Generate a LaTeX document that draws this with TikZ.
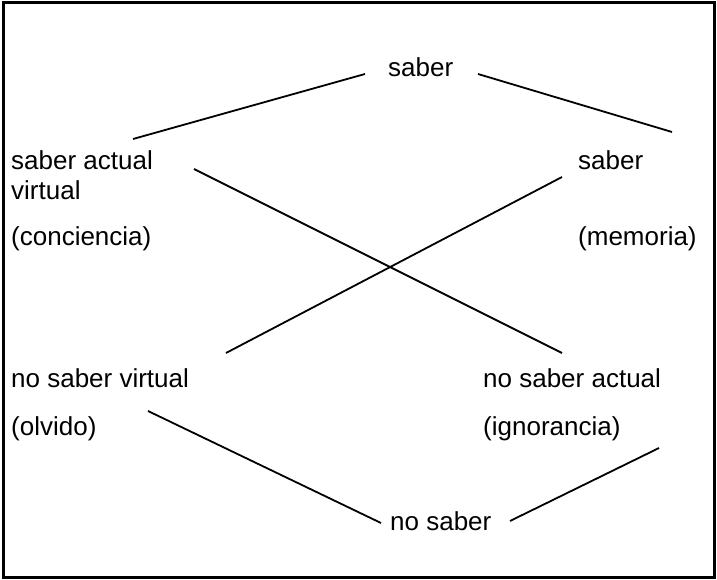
\documentclass[tikz,border=0pt]{standalone}
\usepackage{fontspec}
\setmainfont{Liberation Sans}
\begin{document}
\begin{tikzpicture}[x=1pt,y=-1pt,
  lbl/.style={anchor=base west,inner sep=0pt,font=\fontsize{26}{31}\selectfont},
  link/.style={line width=1.8pt,line cap=butt},
  frame/.style={line width=3pt}]
\useasboundingbox (0,0) rectangle (717,580);
\draw[frame] (3,3) rectangle (714,577);
% texts
\node[lbl] (sab) at (388,77) {saber};
\node[lbl] (sav) at (11,170) {saber actual};
\node[lbl] (vir) at (11,200) {virtual};
\node[lbl] (con) at (11,245) {(conciencia)};
\node[lbl] (sbr) at (578,170) {saber};
\node[lbl] (mem) at (578,245) {(memoria)};
\node[lbl] (nsv) at (11,387) {no saber virtual};
\node[lbl] (olv) at (11,435) {(olvido)};
\node[lbl] (nsa) at (483,387) {no saber actual};
\node[lbl] (ign) at (483,435) {(ignorancia)};
\node[lbl] (nos) at (390,530) {no saber};
% connector ends
\coordinate (a1) at (365,74);  \coordinate (a2) at (133,139);
\coordinate (b1) at (478,74);  \coordinate (b2) at (672,132);
\coordinate (c1) at (194,169); \coordinate (c2) at (562,353);
\coordinate (d1) at (562,177); \coordinate (d2) at (226,353);
\coordinate (e1) at (148,411); \coordinate (e2) at (381,523);
\coordinate (f1) at (510,521); \coordinate (f2) at (659,448);
\draw[link] (a1) -- (a2);
\draw[link] (b1) -- (b2);
\draw[link] (c1) -- (c2);
\draw[link] (d1) -- (d2);
\draw[link] (e1) -- (e2);
\draw[link] (f1) -- (f2);
\end{tikzpicture}
\end{document}
